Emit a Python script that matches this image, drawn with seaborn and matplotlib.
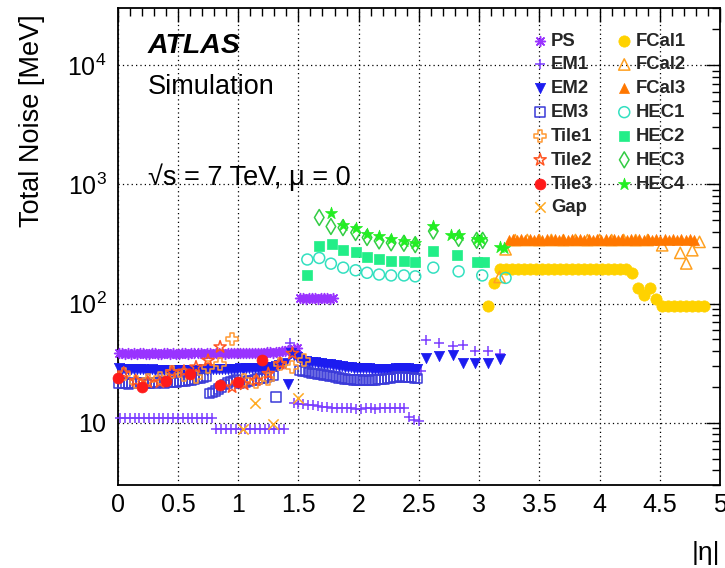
import numpy as np
import matplotlib
matplotlib.use("Agg")
import matplotlib.pyplot as plt
import matplotlib.ticker as mticker
import seaborn as sns

# ---------------- data (|eta|, total noise in MeV) ----------------
ps_eta = [0.0125, 0.0375, 0.0625, 0.0875, 0.1125, 0.1375, 0.1625, 0.1875, 0.2125, 0.2375,
          0.2625, 0.2875, 0.3125, 0.3375, 0.3625, 0.3875, 0.4125, 0.4375, 0.4625, 0.4875,
          0.5125, 0.5375, 0.5625, 0.5875, 0.6125, 0.6375, 0.6625, 0.6875, 0.7125, 0.7375,
          0.7625, 0.7875, 0.8125, 0.8375, 0.8625, 0.8875, 0.9125, 0.9375, 0.9625, 0.9875,
          1.0125, 1.0375, 1.0625, 1.0875, 1.1125, 1.1375, 1.1625, 1.1875, 1.2125, 1.2375,
          1.2625, 1.2875, 1.3125, 1.3375, 1.3625, 1.3875, 1.4125, 1.4375, 1.4625, 1.4875,
          1.5125, 1.5375, 1.5625, 1.5875, 1.6125, 1.6375, 1.6625, 1.6875, 1.7125, 1.7375,
          1.7625, 1.7875]
ps_val = [38.4, 38.1, 38.0, 38.2, 37.9, 38.1, 38.0, 38.2, 38.1, 37.9,
          38.0, 38.2, 38.1, 37.9, 38.0, 38.1, 38.2, 38.0, 38.1, 37.9,
          38.0, 38.2, 38.1, 38.0, 38.2, 38.3, 38.1, 38.2, 38.0, 38.1,
          38.2, 38.0, 38.1, 38.3, 38.2, 38.0, 38.1, 38.2, 38.4, 38.3,
          38.5, 38.3, 38.4, 38.6, 38.5, 38.7, 38.6, 38.8, 38.7, 38.9,
          39.0, 38.8, 39.1, 39.3, 39.6, 39.9, 40.4, 41.0, 41.8, 42.5,
          111, 112, 110, 111, 112, 111, 110, 111, 112, 111,
          110, 111]

em1_eta = [0.02, 0.06, 0.10, 0.14, 0.18, 0.22, 0.26, 0.30, 0.34, 0.38,
           0.42, 0.46, 0.50, 0.54, 0.58, 0.62, 0.66, 0.70, 0.74, 0.78,
           0.82, 0.86, 0.90, 0.94, 0.98, 1.02, 1.06, 1.10, 1.14, 1.18,
           1.22, 1.26, 1.30, 1.34, 1.38, 1.43,
           1.46, 1.50, 1.54, 1.58, 1.62, 1.66, 1.70, 1.74, 1.78, 1.82,
           1.86, 1.90, 1.94, 1.98, 2.02, 2.06, 2.10, 2.14, 2.18, 2.22,
           2.26, 2.30, 2.34, 2.38, 2.42, 2.46, 2.50, 2.52,
           2.56, 2.67, 2.78, 2.87, 2.97, 3.07, 3.17]
em1_val = [11.0, 11.0, 10.9, 11.0, 11.0, 10.9, 11.0, 11.0, 10.9, 11.0,
           11.0, 10.9, 11.0, 11.0, 10.9, 11.0, 10.9, 11.0, 10.9, 10.9,
           8.9, 8.9, 8.8, 8.9, 8.9, 8.8, 8.9, 8.9, 8.8, 8.9,
           8.9, 8.8, 8.9, 8.8, 8.9, 47.0,
           14.6, 14.4, 14.3, 14.2, 14.0, 13.8, 13.6, 13.5, 13.4, 13.3,
           13.3, 13.2, 13.2, 13.1, 13.1, 13.2, 13.2, 13.1, 13.2, 13.3,
           13.2, 13.2, 13.3, 13.2, 11.1, 10.6, 10.4, 27.0,
           49.0, 46.6, 43.7, 44.6, 39.7, 39.7, 38.0]

em2_eta = [0.0125, 0.0375, 0.0625, 0.0875, 0.1125, 0.1375, 0.1625, 0.1875, 0.2125, 0.2375,
           0.2625, 0.2875, 0.3125, 0.3375, 0.3625, 0.3875, 0.4125, 0.4375, 0.4625, 0.4875,
           0.5125, 0.5375, 0.5625, 0.5875, 0.6125, 0.6375, 0.6625, 0.6875, 0.7125, 0.7375,
           0.7625, 0.7875, 0.8125, 0.8375, 0.8625, 0.8875, 0.9125, 0.9375, 0.9625, 0.9875,
           1.0125, 1.0375, 1.0625, 1.0875, 1.1125, 1.1375, 1.1625, 1.1875, 1.2125, 1.2375,
           1.2625, 1.2875, 1.3125, 1.3375, 1.3625, 1.3875, 1.4125,
           1.4375, 1.4625, 1.4875, 1.5125, 1.5375, 1.5625, 1.5875, 1.6125, 1.6375, 1.6625,
           1.6875, 1.7125, 1.7375, 1.7625, 1.7875, 1.8125, 1.8375, 1.8625, 1.8875, 1.9125,
           1.9375, 1.9625, 1.9875, 2.0125, 2.0375, 2.0625, 2.0875, 2.1125, 2.1375, 2.1625,
           2.1875, 2.2125, 2.2375, 2.2625, 2.2875, 2.3125, 2.3375, 2.3625, 2.3875, 2.4125,
           2.4375, 2.4625, 2.4875,
           2.56, 2.67, 2.78, 2.87, 2.97, 3.07, 3.17]
em2_val = [28.6, 28.4, 28.3, 28.2, 28.1, 28.2, 28.0, 28.1, 28.0, 27.9,
           27.9, 28.0, 27.8, 27.9, 27.8, 27.9, 27.8, 27.7, 27.8, 27.7,
           27.8, 27.7, 27.8, 27.7, 27.8, 27.9, 27.8, 27.9, 28.0, 27.9,
           28.0, 28.1, 28.0, 28.1, 28.2, 28.1, 28.3, 28.2, 28.4, 28.3,
           28.5, 28.4, 28.6, 28.5, 28.7, 28.8, 28.7, 28.9, 29.0, 29.2,
           29.4, 29.6, 29.9, 30.3, 30.8, 31.5, 21.2,
           38.5, 37.0, 35.5, 34.0, 33.2, 32.8, 32.5, 32.2, 32.0, 31.8,
           31.5, 31.3, 31.0, 30.8, 30.5, 30.3, 30.0, 29.8, 29.6, 29.4,
           29.2, 29.0, 28.9, 28.8, 28.7, 28.6, 28.5, 28.4, 28.4, 28.3,
           28.3, 28.2, 28.2, 28.3, 28.4, 28.5, 28.6, 28.5, 28.6, 28.5,
           28.4, 28.3, 28.2,
           35.1, 36.0, 36.7, 31.6, 31.6, 31.6, 34.5]

em3_eta = [0.0125, 0.0375, 0.0625, 0.0875, 0.1125, 0.1375, 0.1625, 0.1875, 0.2125, 0.2375,
           0.2625, 0.2875, 0.3125, 0.3375, 0.3625, 0.3875, 0.4125, 0.4375, 0.4625, 0.4875,
           0.5125, 0.5375, 0.5625, 0.5875, 0.6125, 0.6375, 0.6625, 0.6875, 0.7125, 0.7375,
           0.7625, 0.7875, 0.8125, 0.8375, 0.8625, 0.8875, 0.9125, 0.9375, 0.9625, 0.9875,
           1.0125, 1.0375, 1.0625, 1.0875, 1.1125, 1.1375, 1.1625, 1.1875, 1.2125, 1.2375,
           1.2625, 1.2875, 1.3125,
           1.5125, 1.5375, 1.5625, 1.5875, 1.6125, 1.6375, 1.6625, 1.6875, 1.7125, 1.7375,
           1.7625, 1.7875, 1.8125, 1.8375, 1.8625, 1.8875, 1.9125, 1.9375, 1.9625, 1.9875,
           2.0125, 2.0375, 2.0625, 2.0875, 2.1125, 2.1375, 2.1625, 2.1875, 2.2125, 2.2375,
           2.2625, 2.2875, 2.3125, 2.3375, 2.3625, 2.3875, 2.4125, 2.4375, 2.4625, 2.4875]
em3_val = [21.6, 21.3, 21.5, 21.2, 21.4, 21.6, 21.3, 21.5, 21.7, 21.4,
           21.6, 21.8, 21.5, 21.7, 21.9, 21.6, 21.8, 22.0, 21.7, 21.9,
           22.1, 22.4, 22.2, 22.6, 22.9, 23.1, 23.4, 23.8, 24.0, 24.3,
           17.5, 17.9, 18.5, 19.2, 20.0, 20.8, 21.5, 22.1, 22.5, 22.8,
           21.5, 21.8, 22.0, 22.3, 22.6, 22.9, 23.2, 23.5, 23.8, 24.1,
           24.5, 25.0, 16.4,
           27.5, 27.2, 26.8, 26.4, 26.0, 25.8, 25.6, 25.4, 25.2, 25.0,
           24.7, 24.4, 24.1, 23.8, 23.5, 23.3, 23.1, 23.0, 22.9, 22.8,
           22.8, 22.7, 22.8, 22.7, 22.8, 22.9, 23.0, 23.1, 23.2, 23.4,
           23.6, 23.9, 24.1, 24.3, 24.2, 24.1, 24.0, 23.9, 23.8, 23.6]

tile1_eta = [0.05, 0.15, 0.25, 0.35, 0.45, 0.55, 0.65, 0.75, 0.85, 0.95, 1.05, 1.15, 1.25, 1.35, 1.45, 1.55]
tile1_val = [25.8, 21.9, 22.7, 23.5, 26.6, 25.0, 24.1, 29.3, 31.3, 50.0, 23.0, 22.0, 23.4, 31.3, 29.3, 33.3]

tile2_eta = [0.05, 0.15, 0.25, 0.35, 0.45, 0.55, 0.65, 0.75, 0.85, 0.95, 1.05, 1.15, 1.25, 1.35, 1.45]
tile2_val = [26.1, 22.5, 21.9, 21.9, 26.6, 27.0, 29.3, 33.3, 43.2, 19.9, 21.0, 22.7, 25.8, 31.3, 38.1]

tile3_eta = [0.0, 0.2, 0.4, 0.6, 0.85, 1.0, 1.2]
tile3_val = [23.8, 19.9, 22.3, 25.8, 20.6, 21.9, 33.3]

gap_eta = [1.04, 1.14, 1.29, 1.50]
gap_val = [8.8, 14.6, 9.8, 16.2]

fcal1_eta = [3.076, 3.12,
             3.17, 3.22, 3.27, 3.32, 3.37, 3.42, 3.47, 3.52, 3.57, 3.62, 3.67,
             3.72, 3.77, 3.82, 3.87, 3.92, 3.97, 4.02, 4.07, 4.12, 4.17, 4.22,
             4.27, 4.32, 4.37, 4.42, 4.47,
             4.515, 4.565, 4.615, 4.665, 4.715, 4.765, 4.815, 4.865]
fcal1_val = [96, 148,
             193, 194, 193, 193, 194, 193, 193, 194, 193, 193, 194,
             193, 193, 194, 193, 193, 194, 193, 193, 194, 193, 193,
             182, 135, 119, 135, 110,
             96, 96, 96, 96, 96, 96, 96, 96]

fcal2_eta = [3.17, 3.22, 3.30, 3.40, 3.50, 3.60, 3.70, 3.80, 3.90, 4.00, 4.10, 4.20, 4.30, 4.40,
             4.52, 4.67, 4.72, 4.77, 4.83]
fcal2_val = [167, 285, 340, 341, 340, 341, 340, 341, 340, 341, 340, 341, 340, 341,
             308, 266, 217, 280, 329]

fcal3_eta = [3.245, 3.280, 3.315, 3.350, 3.385, 3.420, 3.455, 3.490, 3.525, 3.560,
             3.595, 3.630, 3.665, 3.700, 3.735, 3.770, 3.805, 3.840, 3.875, 3.910,
             3.945, 3.980, 4.015, 4.050, 4.085, 4.120, 4.155, 4.190, 4.225, 4.260,
             4.295, 4.330, 4.365, 4.400, 4.435, 4.470, 4.505, 4.540, 4.575, 4.610,
             4.645, 4.680, 4.715, 4.750, 4.785]
fcal3_val = [344, 345, 344, 345, 344, 345, 344, 345, 344, 345,
             344, 345, 344, 345, 344, 345, 344, 345, 344, 345,
             344, 345, 344, 345, 344, 345, 344, 345, 344, 345,
             344, 345, 344, 345, 344, 345, 344, 345, 344, 345,
             344, 345, 344, 345, 344]

hec1_eta = [1.574, 1.673, 1.770, 1.872, 1.975, 2.070, 2.170, 2.270, 2.376, 2.470, 2.620, 2.830, 3.026, 3.220]
hec1_val = [234, 241, 216, 200, 190, 181, 175, 172, 172, 169, 200, 186, 172, 164]

hec2_eta = [1.568, 1.673, 1.776, 1.872, 1.975, 2.070, 2.170, 2.270, 2.376, 2.470, 2.620, 2.820, 2.980, 3.040]
hec2_val = [172, 302, 314, 283, 268, 246, 235, 228, 227, 223, 276, 254, 221, 221]

hec3_eta = [1.673, 1.770, 1.870, 1.975, 2.070, 2.170, 2.270, 2.376, 2.470, 2.620, 2.830, 2.980, 3.030]
hec3_val = [527, 443, 433, 394, 358, 335, 323, 320, 312, 405, 352, 339, 339]

hec4_eta = [1.770, 1.870, 1.975, 2.070, 2.170, 2.270, 2.376, 2.470, 2.620, 2.770, 2.830, 2.980, 3.020, 3.170, 3.210]
hec4_val = [574, 460, 431, 380, 368, 345, 333, 323, 447, 373, 373, 351, 351, 297, 292]

x_ticks = [0, 0.5, 1, 1.5, 2, 2.5, 3, 3.5, 4, 4.5, 5]
x_tick_labels = ["0", "0.5", "1", "1.5", "2", "2.5", "3", "3.5", "4", "4.5", "5"]
y_ticks = [10, 100, 1000, 10000]
y_tick_labels = [r"$10$", r"$10^{2}$", r"$10^{3}$", r"$10^{4}$"]

# ---------------- style ----------------
sns.set_theme(style="white")
plt.rcParams["font.family"] = ["Liberation Sans", "DejaVu Sans"]
plt.rcParams["mathtext.fontset"] = "custom"
plt.rcParams["mathtext.rm"] = "Liberation Sans"
plt.rcParams["mathtext.it"] = "Liberation Sans:italic"
plt.rcParams["mathtext.bf"] = "Liberation Sans:bold"

W, H = 725, 568
L, R, T, B = 117.7, 720.0, 8.3, 485.0
fig = plt.figure(figsize=(W / 100, H / 100), dpi=100)
ax = fig.add_axes([L / W, 1 - B / H, (R - L) / W, (B - T) / H])
ax.set_yscale("log")

# (label, eta, value, marker, size, colour, kind)
series = [
    ("PS", ps_eta, ps_val, (8, 2, 0), 50, "#9933ff", "line"),
    ("EM1", em1_eta, em1_val, "+", 50, "#7a3cff", "line"),
    ("EM2", em2_eta, em2_val, "v", 55, "#1c1cf0", "filled"),
    ("EM3", em3_eta, em3_val, "s", 46, "#3a3ad8", "open"),
    ("Tile1", tile1_eta, tile1_val, "P", 74, "#ff9933", "open"),
    ("Tile2", tile2_eta, tile2_val, "*", 84, "#ff5522", "open"),
    ("Tile3", tile3_eta, tile3_val, "o", 62, "#ff1a1a", "filled"),
    ("Gap", gap_eta, gap_val, "x", 55, "#ffaa22", "line"),
    ("FCal1", fcal1_eta, fcal1_val, "o", 66, "#ffd200", "filled"),
    ("FCal2", fcal2_eta, fcal2_val, "^", 66, "#ffa020", "open"),
    ("FCal3", fcal3_eta, fcal3_val, "^", 52, "#ff7700", "filled"),
    ("HEC1", hec1_eta, hec1_val, "o", 62, "#33e0c0", "open"),
    ("HEC2", hec2_eta, hec2_val, "s", 55, "#22ee88", "filled"),
    ("HEC3", hec3_eta, hec3_val, "d", 66, "#33cc44", "open"),
    ("HEC4", hec4_eta, hec4_val, "*", 84, "#22ee22", "filled"),
]

for name, xs, ys, mk, sz, col, kind in series:
    common = dict(x=xs, y=ys, ax=ax, marker=mk, s=sz, label=name,
                  legend=False, clip_on=False, zorder=3)
    if kind == "filled":
        sns.scatterplot(color=col, edgecolor=col, linewidth=0.5, **common)
    elif kind == "open":
        sns.scatterplot(color=col, facecolor="none", edgecolor=col, linewidth=1.1, **common)
    else:
        sns.scatterplot(color=col, linewidth=1.1, **common)

ax.set_xlim(0, 5)
ax.set_ylim(3, 3e4)

ax.xaxis.set_major_locator(mticker.FixedLocator(x_ticks))
ax.xaxis.set_major_formatter(mticker.FixedFormatter(x_tick_labels))
ax.xaxis.set_minor_locator(mticker.MultipleLocator(0.1))
ax.yaxis.set_major_locator(mticker.FixedLocator(y_ticks))
ax.yaxis.set_major_formatter(mticker.FixedFormatter(y_tick_labels))
ax.yaxis.set_minor_locator(mticker.LogLocator(base=10, subs=np.arange(2, 10) * 1.0, numticks=20))
ax.yaxis.set_minor_formatter(mticker.NullFormatter())

ax.tick_params(which="both", direction="in", top=True, right=True, color="black", width=1.0)
ax.tick_params(which="major", length=10, labelsize=18, pad=6, labelcolor="black")
ax.tick_params(which="minor", length=5.5)
ax.tick_params(axis="y", which="major", pad=8)

ax.grid(True, which="major", color="black", linestyle=(0, (1, 2.5)), linewidth=0.9)
ax.set_axisbelow(True)
for sp in ax.spines.values():
    sp.set_color("black")
    sp.set_linewidth(1.3)
    sp.set_visible(True)

ax.set_ylabel("Total Noise [MeV]", fontsize=19.5, loc="top", color="black")
ax.yaxis.set_label_coords((45 - L) / (R - L), (B - 14) / (B - T))
ax.set_xlabel("|η|", fontsize=19, loc="right", color="black")
ax.xaxis.set_label_coords(1.0, (B - 541) / (B - T))

def axy(py):
    return (B - py) / (B - T)

tx = (148 - L) / (R - L)
ax.text(tx, axy(53), "ATLAS", fontsize=20.5, fontweight="bold", fontstyle="italic",
        transform=ax.transAxes, va="baseline", ha="left", color="black")
ax.text(tx, axy(94), "Simulation", fontsize=19.5, transform=ax.transAxes,
        va="baseline", ha="left", color="black")
ax.text(tx, axy(185), "√s = 7 TeV, μ = 0", fontsize=19.5, transform=ax.transAxes,
        va="baseline", ha="left", color="black")

fs = 13.3
leg = ax.legend(ncol=2, frameon=False, loc="upper left",
                bbox_to_anchor=((534.6 - L) / (R - L), axy(32.5)),
                borderpad=0, borderaxespad=0, handlelength=0.6, handletextpad=0.3,
                columnspacing=1.4, labelspacing=0.37, scatterpoints=1,
                prop={"family": "Liberation Sans", "weight": "bold", "size": fs})

fig.savefig("out.png", dpi=100)
